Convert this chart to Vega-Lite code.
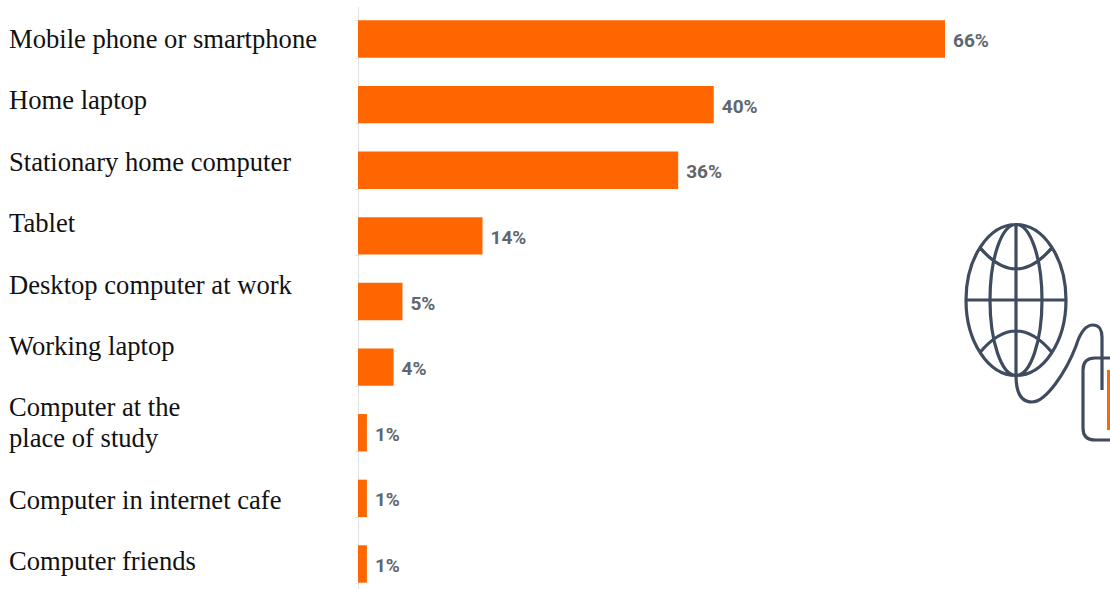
{
  "$schema": "https://vega.github.io/schema/vega-lite/v6.json",
  "width": 1110,
  "height": 589,
  "padding": 0,
  "autosize": {"type": "none"},
  "background": "white",
  "view": {"stroke": null},
  "datasets": {
    "devices": [
      {"device": "Mobile phone or smartphone", "share": 66},
      {"device": "Home laptop", "share": 40},
      {"device": "Stationary home computer", "share": 36},
      {"device": "Tablet", "share": 14},
      {"device": "Desktop computer at work", "share": 5},
      {"device": "Working laptop", "share": 4},
      {"device": "Computer at the place of study", "share": 1},
      {"device": "Computer in internet cafe", "share": 1},
      {"device": "Computer friends", "share": 1}
    ],
    "captions": [
      {"line": 0, "caption": "Mobile phone or smartphone"},
      {"line": 2, "caption": "Home laptop"},
      {"line": 4, "caption": "Stationary home computer"},
      {"line": 6, "caption": "Tablet"},
      {"line": 8, "caption": "Desktop computer at work"},
      {"line": 10, "caption": "Working laptop"},
      {"line": 12, "caption": "Computer at the"},
      {"line": 13, "caption": "place of study"},
      {"line": 15, "caption": "Computer in internet cafe"},
      {"line": 17, "caption": "Computer friends"}
    ],
    "icon": [{"name": "globe and mouse"}]
  },
  "layer": [
    {
      "data": {"name": "devices"},
      "mark": {"type": "bar", "color": "#ff6600"},
      "encoding": {
        "y": {
          "field": "device", "type": "nominal", "sort": null,
          "scale": {"range": [6.2, 596.8], "paddingInner": 0.43, "paddingOuter": 0.215},
          "axis": {"title": null, "labels": false, "offset": -358, "tickBand": "extent", "tickSize": 3, "tickColor": "#dfe3e6", "domainColor": "#dfe3e6", "grid": false}
        },
        "x": {
          "field": "share", "type": "quantitative",
          "scale": {"domain": [0, 66], "range": [358, 945], "nice": false},
          "axis": null
        }
      }
    },
    {
      "data": {"name": "devices"},
      "transform": [{"calculate": "datum.share + '%'", "as": "shareLabel"}],
      "mark": {"type": "text", "align": "left", "baseline": "middle", "dx": 8, "dy": 2, "font": "Roboto", "fontWeight": "bold", "fontSize": 19, "color": "#60666e"},
      "encoding": {
        "y": {"field": "device", "type": "nominal", "sort": null, "scale": {"range": [6.2, 596.8], "paddingInner": 0.43, "paddingOuter": 0.215}, "axis": null},
        "x": {"field": "share", "type": "quantitative", "axis": null},
        "text": {"field": "shareLabel"}
      }
    },
    {
      "data": {"name": "captions"},
      "mark": {"type": "text", "align": "left", "baseline": "middle", "dy": 1, "font": "Liberation Serif", "fontSize": 26.6, "color": "#111111"},
      "encoding": {
        "x": {"value": 9},
        "y": {"field": "line", "type": "quantitative", "scale": {"domain": [0, 17], "range": [39, 561], "nice": false, "zero": false}, "axis": null},
        "text": {"field": "caption"}
      }
    },
    {
      "data": {"name": "icon"},
      "mark": {
        "type": "point", "filled": false, "size": 40000, "stroke": "#3f4b5e", "strokeWidth": 3.2, "opacity": 1,
        "shape": "M0 -.755 C.276 -.755 .5 -.417 .5 0 C.5 .417 .276 .755 0 .755 C-.276 .755 -.5 .417 -.5 0 C-.5 -.417 -.276 -.755 0 -.755 Z M0 -.755 C.144 -.755 .26 -.417 .26 0 C.26 .417 .144 .755 0 .755 C-.144 .755 -.26 .417 -.26 0 C-.26 -.417 -.144 -.755 0 -.755 Z M0 -.755 L0 .755 M-.5 0 L.5 0 M-.36 -.524 Q0 -.096 .36 -.524 M-.36 .524 Q0 .096 .36 .524 M0 .755 C0 .95 .06 1.02 .16 1.02 C.3 1.02 .5 .72 .6 .46 C.64 .33 .7 .25 .77 .25 C.83 .25 .86 .3 .86 .37 L.86 .9 M1.2 .58 L.79 .58 Q.67 .58 .67 .7 L.67 1.28 Q.67 1.4 .79 1.4 L1.2 1.4"
      },
      "encoding": {"x": {"value": 1016}, "y": {"value": 300}}
    },
    {
      "data": {"name": "icon"},
      "mark": {
        "type": "point", "filled": true, "size": 40000, "fill": "#ff6600", "opacity": 1,
        "shape": "M.91 .7 L1.0 .7 L1.0 1.3 L.91 1.3 Z"
      },
      "encoding": {"x": {"value": 1016}, "y": {"value": 300}}
    }
  ],
  "resolve": {"scale": {"y": "independent"}}
}
